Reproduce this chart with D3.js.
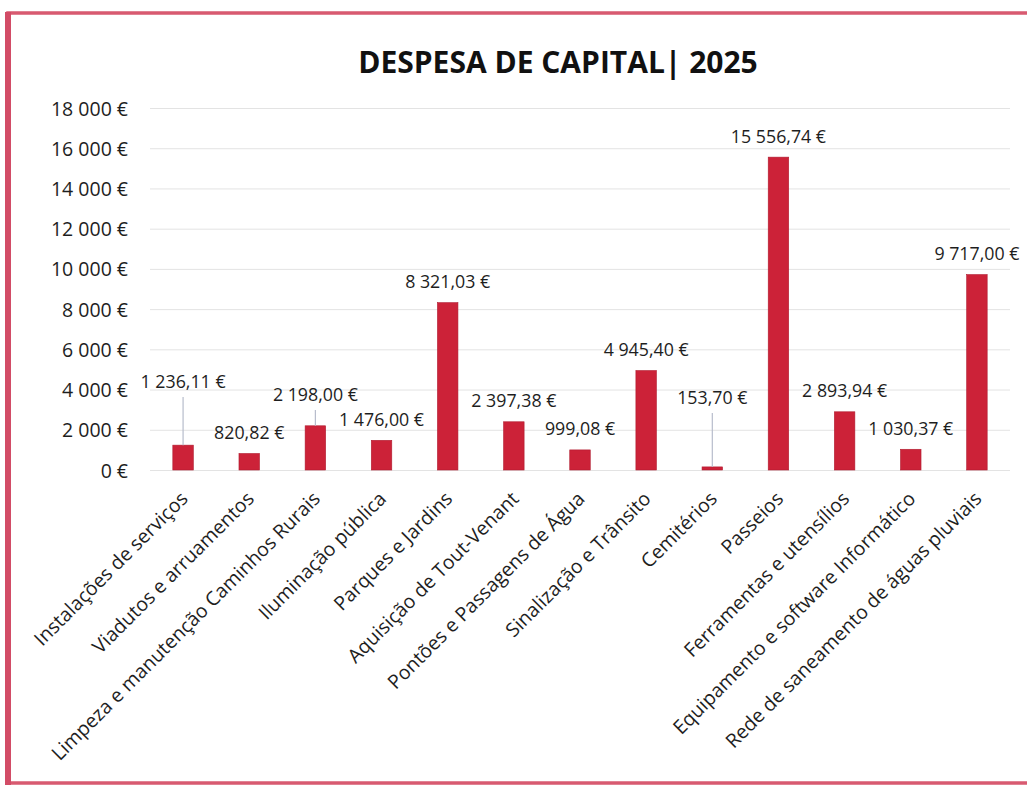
<!DOCTYPE html>
<html>
<head>
<meta charset="utf-8">
<script src="https://cdn.jsdelivr.net/npm/d3@7"></script>
<style>
  html, body { margin: 0; padding: 0; background: #ffffff; }
  svg { display: block; }
</style>
</head>
<body>
<svg id="chart" width="1027" height="785"></svg>
<script>
// ---------- data ----------
const categories = [
  "Instalações de serviços",
  "Viadutos e arruamentos",
  "Limpeza e manutenção Caminhos Rurais",
  "Iluminação pública",
  "Parques e Jardins",
  "Aquisição de Tout-Venant",
  "Pontões e Passagens de Água",
  "Sinalização e Trânsito",
  "Cemitérios",
  "Passeios",
  "Ferramentas e utensílios",
  "Equipamento e software Informático",
  "Rede de saneamento de águas pluviais"
];
const values = [1236.11, 820.82, 2198.00, 1476.00, 8321.03, 2397.38, 999.08, 4945.40, 153.70, 15556.74, 2893.94, 1030.37, 9717.00];
const yTicks = [0, 2000, 4000, 6000, 8000, 10000, 12000, 14000, 16000, 18000];
const title = "DESPESA DE CAPITAL| 2025";

// ---------- layout ----------
const W = 1027, H = 785;
const plot = { left: 150, right: 1010, top: 108, bottom: 470 };
const font = "'Open Sans', 'DejaVu Sans', sans-serif";
const barColor = "#cc2238";
const textColor = "#1e1e1e";
// labels that were dragged away from their bar (label level in value units) -> drawn with leader line
const movedLabelLevel = {
  "Instalações de serviços": 4380,
  "Limpeza e manutenção Caminhos Rurais": 3730,
  "Cemitérios": 3580
};

const locale = d3.formatLocale({ decimal: ",", thousands: "\u00a0", grouping: [3], currency: ["", "\u00a0€"] });
const fmtTick = locale.format("$,.0f");
const fmtVal = locale.format("$,.2f");

const svg = d3.select("#chart");

// frame
svg.append("rect")
  .attr("x", 8).attr("y", 13).attr("width", W + 10).attr("height", H - 15)
  .attr("fill", "#ffffff").attr("stroke", "#d85a70").attr("stroke-width", 3.5);
svg.append("line").attr("x1", 8).attr("x2", 8).attr("y1", 12).attr("y2", H)
  .attr("stroke", "#d24c66").attr("stroke-width", 6);

const x = d3.scaleBand().domain(categories).range([plot.left, plot.right]).paddingInner(0.69).paddingOuter(0.345);
const y = d3.scaleLinear().domain([0, 18000]).range([plot.bottom, plot.top]);

// gridlines
svg.append("g").selectAll("line").data(yTicks).join("line")
  .attr("x1", plot.left).attr("x2", plot.right)
  .attr("y1", d => y(d) + 0.5).attr("y2", d => y(d) + 0.5)
  .attr("stroke", "#e3e3e3").attr("stroke-width", 1);

// y axis labels
const yAxis = d3.axisLeft(y).tickValues(yTicks).tickFormat(fmtTick).tickSize(0).tickPadding(0);
const gy = svg.append("g").attr("transform", `translate(${plot.left - 22},0)`).call(yAxis);
gy.select(".domain").remove();
gy.selectAll("text").attr("font-family", font).attr("font-size", 19.5).attr("fill", textColor).attr("dy", "0.36em");

// bars
svg.append("g").selectAll("rect").data(categories).join("rect")
  .attr("x", d => x(d)).attr("width", x.bandwidth())
  .attr("y", (d, i) => y(values[i]))
  .attr("height", (d, i) => y(0) - y(values[i]))
  .attr("fill", barColor).attr("stroke", "#b01c30").attr("stroke-width", 0.6);

// data labels (+ leader lines for moved labels)
const labG = svg.append("g");
categories.forEach((c, i) => {
  const cx = x(c) + x.bandwidth() / 2;
  let ly;
  if (movedLabelLevel[c] !== undefined) {
    ly = y(movedLabelLevel[c]);
    labG.append("line")
      .attr("x1", cx).attr("x2", cx)
      .attr("y1", ly + 15).attr("y2", y(values[i]))
      .attr("stroke", "#b7bccc").attr("stroke-width", 1.2);
  } else {
    ly = y(values[i]) - 21;
  }
  labG.append("text")
    .attr("x", cx).attr("y", ly).attr("dy", "0.36em")
    .attr("text-anchor", "middle")
    .attr("font-family", font).attr("font-size", 17.8).attr("fill", textColor)
    .text(fmtVal(values[i]));
});

// category axis labels
const xAxis = d3.axisBottom(x).tickSize(0).tickPadding(0);
const gx = svg.append("g").attr("transform", `translate(0,${plot.bottom})`).call(xAxis);
gx.select(".domain").remove();
gx.selectAll("text")
  .attr("font-family", font).attr("font-size", 19.5).attr("fill", textColor)
  .attr("text-anchor", "end").attr("dy", null).attr("y", 0)
  .attr("transform", "translate(6,30) rotate(-45)");

// title
svg.append("text")
  .attr("x", 558).attr("y", 62).attr("dy", "0.36em")
  .attr("text-anchor", "middle")
  .attr("font-family", font).attr("font-weight", 700).attr("font-size", 30).attr("fill", "#111111")
  .text(title);
</script>
</body>
</html>
